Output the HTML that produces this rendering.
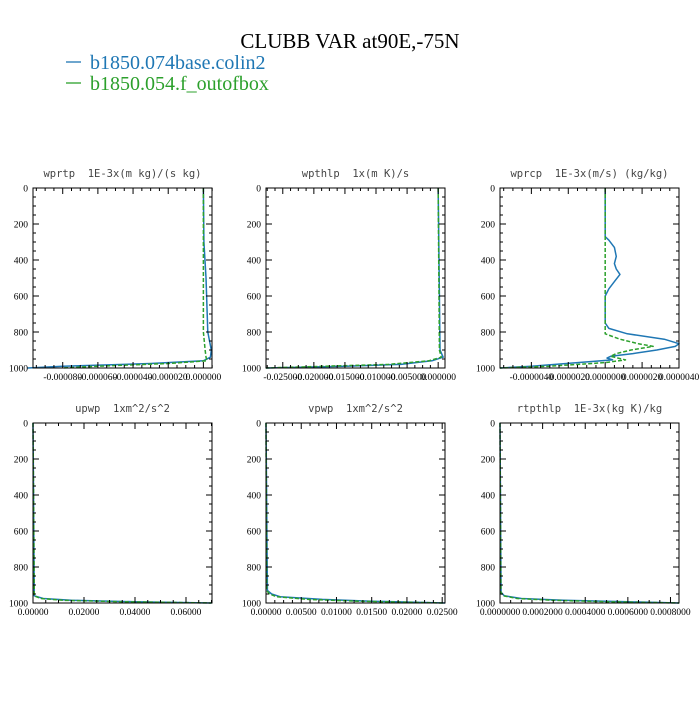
<!DOCTYPE html>
<html><head><meta charset="utf-8"><style>
body{margin:0;background:#fff}
svg text{font-family:"Liberation Serif",serif}
.pt{font-family:"DejaVu Sans Mono","Liberation Mono",monospace;font-size:10.5px;fill:#444}
.tk{font-size:9.5px;fill:#000}
</style></head><body>
<svg id="chart" width="700" height="700" viewBox="0 0 700 700" xmlns="http://www.w3.org/2000/svg">
<text x="350" y="48" text-anchor="middle" font-size="21">CLUBB VAR at90E,-75N</text>
<g>
<line x1="66" y1="62" x2="81" y2="62" stroke="#1f77b4" stroke-width="1.3"/>
<text x="90" y="69" font-size="20" fill="#1f77b4">b1850.074base.colin2</text>
<line x1="66" y1="83" x2="81" y2="83" stroke="#2ca02c" stroke-width="1.3"/>
<text x="90" y="90" font-size="20" fill="#2ca02c">b1850.054.f_outofbox</text>
</g>
</svg>
<script>
const levels1=[0,300,500,800,900,940,960,975,990,1000];
const wprtpBlue=[0,0.0000003,0.0000015,0.0000025,0.0000045,0.000004,0,-0.00003,-0.00008,-0.0001];
const wprtpGreen=[0,0,0,0,0.000001,0.0000015,0.000002,-0.00002,-0.00006,-0.00008];
const wprtpTicks=[-0.00008,-0.00006,-0.00004,-0.00002,0];
const wprtpLabels=["-0.000080","-0.000060","-0.000040","-0.000020","0.000000"];
const levels2=[0,900,940,960,980,990,1000];
const wpthlpBlue=[0,0.0003,0.0008,-0.001,-0.006,-0.015,-0.0277];
const wpthlpGreen=[0,0.0002,0.0005,-0.0015,-0.008,-0.018,-0.0277];
const wpthlpTicks=[-0.025,-0.02,-0.015,-0.01,-0.005,0];
const wpthlpLabels=["-0.025000","-0.020000","-0.015000","-0.010000","-0.005000","0.000000"];
const levels3=[0,270,290,330,380,420,450,480,520,560,600,750,780,810,840,865,880,900,920,935,945,955,970,990,1000];
const wprcpBlue=[0,0,0.0000002,0.0000005,0.0000006,0.0000005,0.0000006,0.0000008,0.0000005,0.0000002,0,0,0.0000002,0.0000012,0.0000032,0.000004,0.0000038,0.0000028,0.0000015,0.0000003,0.0000001,0.0000004,-0.0000015,-0.000004,-0.0000057];
const wprcpGreen=[0,0,0,0,0,0,0,0,0,0,0,0,0,0,0.0000008,0.0000018,0.0000026,0.0000014,0.0000006,0.0000003,0.0000007,0.0000011,0,-0.000003,-0.0000057];
const wprcpTicks=[-0.000004,-0.000002,0,0.000002,0.000004];
const wprcpLabels=["-0.0000040","-0.0000020","0.0000000","0.0000020","0.0000040"];
const levels4=[0,960,975,985,993,1000];
const upwpBlue=[0,0.0005,0.004,0.015,0.04,0.07];
const upwpGreen=[0,0.0005,0.003,0.012,0.035,0.07];
const upwpTicks=[0,0.02,0.04,0.06];
const upwpLabels=["0.00000","0.02000","0.04000","0.06000"];
const levels5=[0,930,950,965,980,990,1000];
const vpwpBlue=[0,0.0002,0.0008,0.002,0.008,0.015,0.0254];
const vpwpGreen=[0,0.0001,0.0005,0.0015,0.006,0.013,0.0254];
const vpwpTicks=[0,0.005,0.01,0.015,0.02,0.025];
const vpwpLabels=["0.00000","0.00500","0.01000","0.01500","0.02000","0.02500"];
const levels6=[0,940,960,975,985,993,1000];
const rtpthlpBlue=[0,0.000005,0.00002,0.0001,0.0003,0.0006,0.00084];
const rtpthlpGreen=[0,0.000004,0.000015,0.00008,0.00025,0.0005,0.00084];
const rtpthlpTicks=[0,0.0002,0.0004,0.0006,0.0008];
const rtpthlpLabels=["0.0000000","0.0002000","0.0004000","0.0006000","0.0008000"];
const yTicks=[0,200,400,600,800,1000];

const NS="http://www.w3.org/2000/svg";
const svg=document.getElementById('chart');
function mk(tag,attrs,parent){const e=document.createElementNS(NS,tag);for(const k in attrs)e.setAttribute(k,attrs[k]);parent.appendChild(e);return e;}
const panels=[
 {id:'wprtp',title:'wprtp  1E-3x(m kg)/(s kg)',x:33,y:188,xmin:-0.0000969,xmax:0.0000049,lv:levels1,b:wprtpBlue,g:wprtpGreen,t:wprtpTicks,l:wprtpLabels},
 {id:'wpthlp',title:'wpthlp  1x(m K)/s',x:266,y:188,xmin:-0.0277,xmax:0.0011,lv:levels2,b:wpthlpBlue,g:wpthlpGreen,t:wpthlpTicks,l:wpthlpLabels},
 {id:'wprcp',title:'wprcp  1E-3x(m/s) (kg/kg)',x:500,y:188,xmin:-0.0000057,xmax:0.0000040,lv:levels3,b:wprcpBlue,g:wprcpGreen,t:wprcpTicks,l:wprcpLabels},
 {id:'upwp',title:'upwp  1xm^2/s^2',x:33,y:423,xmin:0,xmax:0.0702,lv:levels4,b:upwpBlue,g:upwpGreen,t:upwpTicks,l:upwpLabels},
 {id:'vpwp',title:'vpwp  1xm^2/s^2',x:266,y:423,xmin:0,xmax:0.0254,lv:levels5,b:vpwpBlue,g:vpwpGreen,t:vpwpTicks,l:vpwpLabels},
 {id:'rtpthlp',title:'rtpthlp  1E-3x(kg K)/kg',x:500,y:423,xmin:0,xmax:0.00084,lv:levels6,b:rtpthlpBlue,g:rtpthlpGreen,t:rtpthlpTicks,l:rtpthlpLabels}
];
const W=179,H=180;
panels.forEach(p=>{
 const g=mk('g',{},svg);
 
 
 const xs=v=>p.x+(v-p.xmin)/(p.xmax-p.xmin)*W;
 const ys=v=>p.y+v/1000*H;
 const tt=mk('text',{x:p.x+W/2,y:p.y-11,'text-anchor':'middle',class:'pt'},g);
 tt.textContent=p.title.replace('  ','\u00a0\u00a0');
 
 
 [[p.b,'#1f77b4',''],[p.g,'#2ca02c','4,2']].forEach((s,i)=>{
  const pts=s[0].map((v,j)=>xs(v).toFixed(2)+','+ys(p.lv[j]).toFixed(2)).join(' ');
  const pl=mk('polyline',{points:pts,fill:'none',stroke:s[1],'stroke-width':1.5,'stroke-linejoin':'round'},g);
  if(s[2])pl.setAttribute('stroke-dasharray',s[2]);
  
  
 });
 const fr=mk('rect',{x:p.x,y:p.y,width:W,height:H,fill:'none',stroke:'#000','stroke-width':1},g);
 
 
 for(let v=0;v<=1000;v+=50){
  const maj=v%200===0, len=maj?6:3, y=ys(v);
  mk('line',{x1:p.x,y1:y,x2:p.x+len,y2:y,stroke:'#000'},g);
  mk('line',{x1:p.x+W,y1:y,x2:p.x+W-len,y2:y,stroke:'#000'},g);
 }
 yTicks.forEach(v=>{
  const t=mk('text',{x:p.x-5,y:ys(v)+3.5,'text-anchor':'end',class:'tk'},g);
  t.textContent=String(v);
  
  
 });
 const step=p.t[1]-p.t[0];
 for(let k=-10;k<=40;k++){
  const v=p.t[0]+k*step/4; const x=xs(v);
  if(x<p.x-0.5||x>p.x+W+0.5)continue;
  const len=(k%4===0)?6:3;
  mk('line',{x1:x,y1:p.y+H,x2:x,y2:p.y+H-len,stroke:'#000'},g);
  mk('line',{x1:x,y1:p.y,x2:x,y2:p.y+len,stroke:'#000'},g);
 }
 p.t.forEach((v,i)=>{
  const t=mk('text',{x:xs(v),y:p.y+H+12,'text-anchor':'middle',class:'tk'},g);
  t.textContent=p.l[i];
  
  
 });
});
</script>
</body></html>
